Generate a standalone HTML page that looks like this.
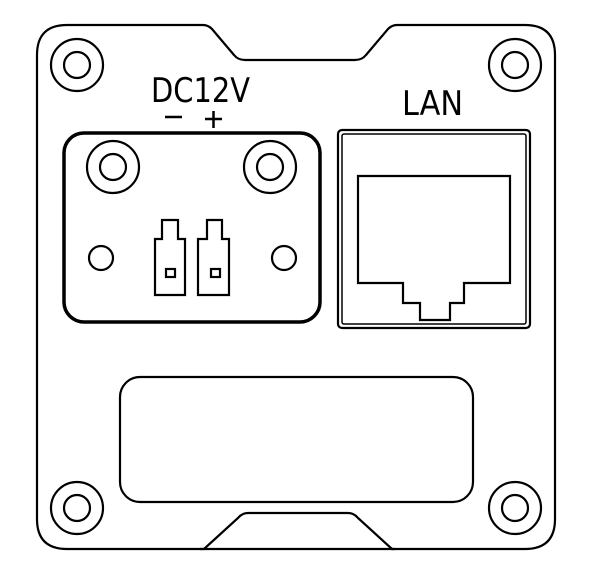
<!DOCTYPE html>
<html><head><style>body{margin:0;background:#fff}svg{display:block}</style></head>
<body>
<svg width="600" height="562" viewBox="0 0 600 562" xmlns="http://www.w3.org/2000/svg" fill="none" stroke="#000" stroke-width="2.2">
<path d="M67 25 H203 Q208 25 212 29 L234 55 Q238 60 245 60 H355 Q362 60 366 55 L388 29 Q392 25 397 25 H525 Q555 25 555 55 V519 Q555 549 525 549 H392 L358 518 Q354 513 348 513 H248 Q242 513 238 518 L204 549 H67 Q37 549 37 519 V55 Q37 25 67 25 Z"/>
<line x1="200" y1="549" x2="395" y2="549"/>
<g>
<circle cx="77" cy="65" r="26"/><circle cx="77" cy="65" r="13"/>
<circle cx="515" cy="65" r="26"/><circle cx="515" cy="65" r="13"/>
<circle cx="77" cy="508" r="26"/><circle cx="77" cy="508" r="13"/>
<circle cx="515" cy="508" r="26"/><circle cx="515" cy="508" r="13"/>
</g>
<rect x="64" y="133" width="256" height="189" rx="20" stroke-width="3.5"/>
<circle cx="113" cy="167" r="26"/><circle cx="113" cy="167" r="13"/>
<circle cx="270" cy="167" r="26"/><circle cx="270" cy="167" r="13"/>
<circle cx="101" cy="258" r="12"/><circle cx="284" cy="258" r="12"/>
<path d="M162 239 V220 H178 V239 H185 V295 H155 V239 Z"/>
<rect x="166" y="269" width="9" height="8"/>
<path d="M207 239 V220 H222 V239 H229 V295 H198 V239 Z"/>
<rect x="211" y="269" width="9" height="8"/>
<rect x="120" y="377" width="353" height="125" rx="20"/>
<rect x="338" y="130" width="192" height="198" rx="4"/>
<rect x="342" y="134" width="184" height="190" rx="2" stroke-width="1.5"/>
<path d="M358 176 H510 V283 H464 V303 H450 V320 H420 V303 H403 V283 H358 Z"/>
<g fill="#000" stroke="none" font-family="'DejaVu Sans','Liberation Sans',sans-serif">
<text x="151" y="102" font-size="34" textLength="99" lengthAdjust="spacingAndGlyphs">DC12V</text>
<text x="402" y="115" font-size="34" textLength="61" lengthAdjust="spacingAndGlyphs">LAN</text>
</g>
<line x1="165" y1="117" x2="182" y2="117" stroke-width="2.5"/>
<line x1="205" y1="119" x2="222" y2="119" stroke-width="2.5"/><line x1="213.5" y1="111" x2="213.5" y2="128" stroke-width="2.5"/>
</svg>
</body></html>
